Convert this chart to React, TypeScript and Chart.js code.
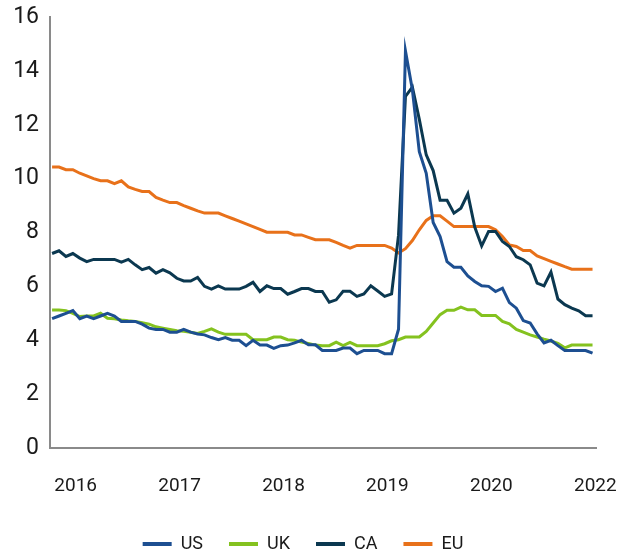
import React, { useEffect, useRef } from "react";
import { Chart, registerables } from "chart.js";

Chart.register(...registerables);

// Monthly unemployment rates (%), one value per month
const US = [
  4.8, 4.9, 5.0, 5.1, 4.8, 4.9, 4.8, 4.9, 5.0, 4.9, 4.7, 4.7,
  4.7, 4.6, 4.45, 4.4, 4.4, 4.3, 4.3, 4.4, 4.3, 4.23, 4.2, 4.1,
  4.02, 4.1, 4.0, 4.0, 3.8, 4.0, 3.82, 3.82, 3.7, 3.8, 3.82, 3.9,
  4.0, 3.83, 3.83, 3.62, 3.62, 3.62, 3.71, 3.71, 3.5, 3.62, 3.62, 3.62,
  3.5, 3.5, 4.41, 14.74, 13.3, 11.0, 10.2, 8.37, 7.85, 6.92, 6.71, 6.71,
  6.39, 6.18, 6.02, 6.0, 5.81, 5.93, 5.4, 5.19, 4.73, 4.64, 4.24, 3.9,
  4.0, 3.8, 3.62, 3.62, 3.62, 3.62, 3.52,
];
const UK = [
  5.12, 5.12, 5.1, 5.0, 4.88, 4.9, 4.9, 5.0, 4.82, 4.8, 4.75, 4.72,
  4.7, 4.65, 4.6, 4.5, 4.45, 4.4, 4.35, 4.33, 4.3, 4.25, 4.33, 4.42,
  4.3, 4.22, 4.22, 4.22, 4.22, 4.02, 4.02, 4.02, 4.12, 4.12, 4.02, 4.0,
  3.93, 3.88, 3.82, 3.8, 3.8, 3.93, 3.8, 3.92, 3.8, 3.8, 3.8, 3.8,
  3.87, 3.98, 4.02, 4.12, 4.12, 4.12, 4.33, 4.64, 4.95, 5.11, 5.11, 5.23,
  5.13, 5.13, 4.92, 4.92, 4.92, 4.7, 4.61, 4.4, 4.3, 4.2, 4.12, 4.04,
  3.97, 3.88, 3.72, 3.82, 3.82, 3.82, 3.82,
];
const CA = [
  7.22, 7.32, 7.11, 7.22, 7.05, 6.92, 7.0, 7.0, 7.0, 7.0, 6.9, 7.0,
  6.8, 6.62, 6.7, 6.49, 6.62, 6.5, 6.3, 6.2, 6.2, 6.33, 6.0, 5.9,
  6.02, 5.9, 5.9, 5.9, 6.0, 6.15, 5.81, 6.02, 5.92, 5.92, 5.71, 5.81,
  5.92, 5.92, 5.81, 5.81, 5.41, 5.5, 5.82, 5.82, 5.63, 5.72, 6.02, 5.83,
  5.63, 5.72, 7.9, 13.05, 13.4, 12.2, 10.88, 10.3, 9.2, 9.2, 8.72, 8.9,
  9.43, 8.2, 7.5, 8.04, 8.04, 7.67, 7.48, 7.1, 6.99, 6.8, 6.12, 6.02,
  6.53, 5.53, 5.32, 5.19, 5.09, 4.91, 4.91,
];
const EU = [
  10.43, 10.43, 10.33, 10.33, 10.2, 10.1, 10.0, 9.92, 9.92, 9.81, 9.92, 9.69,
  9.6, 9.52, 9.52, 9.3, 9.2, 9.11, 9.11, 9.0, 8.9, 8.8, 8.72, 8.72,
  8.72, 8.62, 8.52, 8.42, 8.32, 8.22, 8.12, 8.01, 8.01, 8.01, 8.01, 7.91,
  7.91, 7.82, 7.73, 7.73, 7.73, 7.63, 7.52, 7.42, 7.52, 7.52, 7.52, 7.52,
  7.52, 7.42, 7.24, 7.4, 7.7, 8.1, 8.45, 8.62, 8.62, 8.42, 8.22, 8.22,
  8.22, 8.22, 8.22, 8.22, 8.1, 7.85, 7.54, 7.48, 7.33, 7.33, 7.13, 7.03,
  6.93, 6.83, 6.73, 6.64, 6.64, 6.64, 6.64,
];

const SERIES_NAMES = ["US", "UK", "CA", "EU"];
const SERIES_COLORS = ["#1d4f91", "#84c21f", "#0b3850", "#e8711a"];

// Year tick labels as printed on the reference axis, and where they sit (month index)
const YEAR_LABELS = ["2016", "2017", "2018", "2019", "2020", "2022"];
const YEAR_TICK_AT = [3.4, 18.4, 33.4, 48.4, 63.4, 78.4];

const FONT = "Roboto, 'DejaVu Sans', sans-serif";
const TEXT = "#1a1a1a";
const AXIS = "#8a8a8a";

export default function App() {
  const ref = useRef<HTMLCanvasElement | null>(null);

  useEffect(() => {
    if (!ref.current) return;
    const all = [US, UK, CA, EU];
    const chart = new Chart(ref.current, {
      type: "line",
      data: {
        datasets: all.map((vals, k) => ({
          label: SERIES_NAMES[k],
          data: vals.map((v, i) => ({ x: i, y: v })),
          borderColor: SERIES_COLORS[k],
          backgroundColor: SERIES_COLORS[k],
          borderWidth: 3,
          pointRadius: 0,
          tension: 0,
          fill: false,
        })),
      },
      options: {
        responsive: false,
        animation: false,
        layout: { padding: { top: 17, right: 36, left: 10, bottom: 0 } },
        plugins: {
          tooltip: { enabled: false },
          legend: {
            position: "bottom",
            labels: {
              font: { family: FONT, size: 18 },
              color: TEXT,
              padding: 26,
              boxWidth: 29,
              boxHeight: 4,
              generateLabels: (c: any) =>
                c.data.datasets.map((d: any, i: number) => ({
                  text: d.label,
                  fillStyle: d.borderColor,
                  strokeStyle: d.borderColor,
                  lineWidth: 0,
                  fontColor: TEXT,
                  hidden: false,
                  datasetIndex: i,
                })),
            },
          },
        },
        scales: {
          x: {
            type: "linear",
            min: -0.3,
            max: 78.5,
            grid: { display: false, drawTicks: false },
            border: { display: true, color: AXIS, width: 2 },
            afterFit: (s: any) => {
              s.height = 61;
              s.paddingLeft = 0;
              s.paddingRight = 0;
            },
            afterBuildTicks: (s: any) => {
              s.ticks = YEAR_TICK_AT.map((v) => ({ value: v }));
            },
            ticks: {
              autoSkip: false,
              maxRotation: 0,
              padding: 27,
              color: TEXT,
              font: { family: FONT, size: 19 },
              callback: (_v: any, i: number) => YEAR_LABELS[i],
            },
          },
          y: {
            min: 0,
            max: 16,
            grid: { display: false, drawTicks: false },
            border: { display: true, color: AXIS, width: 2 },
            afterFit: (s: any) => {
              s.width = 40;
              s.paddingTop = 0;
              s.paddingBottom = 0;
            },
            ticks: {
              stepSize: 2,
              padding: 11,
              color: TEXT,
              font: { family: FONT, size: 23 },
            },
          },
        },
      },
    });
    return () => chart.destroy();
  }, []);

  return (
    <div
      style={{
        position: "absolute",
        left: 0,
        top: 0,
        width: 632,
        height: 554,
        overflow: "hidden",
        background: "#fff",
      }}
    >
      <canvas ref={ref} width={632} height={563} style={{ display: "block" }} />
    </div>
  );
}
